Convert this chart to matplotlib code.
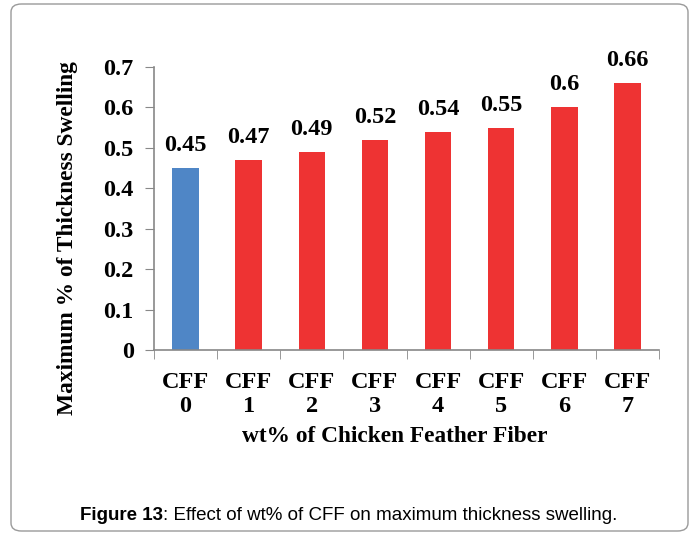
import matplotlib.pyplot as plt
from matplotlib.patches import FancyBboxPatch
import numpy as np

categories = ["CFF\n0", "CFF\n1", "CFF\n2", "CFF\n3", "CFF\n4", "CFF\n5", "CFF\n6", "CFF\n7"]
values = [0.45, 0.47, 0.49, 0.52, 0.54, 0.55, 0.6, 0.66]
value_labels = ["0.45", "0.47", "0.49", "0.52", "0.54", "0.55", "0.6", "0.66"]
colors = ["#4F86C6"] + ["#EE3333"] * 7

serif = "Liberation Serif"
W, H = 696, 535

fig = plt.figure(figsize=(6.96, 5.35), dpi=100)
fig.patch.set_facecolor("white")

# rounded frame around the whole figure
frame = FancyBboxPatch((11 / W, 4 / H), 677 / W, 527 / H,
                       boxstyle="round,pad=0,rounding_size=0.015",
                       transform=fig.transFigure, fill=False,
                       edgecolor="#9a9a9a", linewidth=1.0)
fig.patches.append(frame)

ax = fig.add_axes([154 / W, 1 - 350 / H, 505 / W, 283 / H])
x = np.arange(len(categories))
ax.bar(x, values, width=0.42, color=colors)

for xi, v, lab in zip(x, values, value_labels):
    ax.text(xi, v + 0.042, lab, ha="center", va="baseline",
            fontsize=17.5, fontweight="bold", family=serif)

ax.set_xlim(-0.5, len(categories) - 0.5)
ax.set_ylim(0, 0.7)
ax.set_yticks(np.arange(0, 0.71, 0.1))
ax.set_yticklabels(["0", "0.1", "0.2", "0.3", "0.4", "0.5", "0.6", "0.7"])
ax.set_xticks(x)
ax.set_xticklabels(categories, linespacing=1.2)
ax.set_xticks(np.arange(-0.5, len(categories)), minor=True)

for lbl in ax.get_yticklabels() + ax.get_xticklabels():
    lbl.set_family(serif)
    lbl.set_fontweight("bold")
    lbl.set_fontsize(17.5)

ax.tick_params(axis="x", which="major", length=0, pad=15.5)
ax.tick_params(axis="x", which="minor", length=6.5, color="#888888", direction="out")
ax.tick_params(axis="y", length=6.5, color="#888888", direction="out", pad=8)

for s in ["top", "right"]:
    ax.spines[s].set_visible(False)
for s in ["left", "bottom"]:
    ax.spines[s].set_color("#888888")
    ax.spines[s].set_linewidth(1.2)

fig.text(395 / W, 1 - 437 / H, "wt% of Chicken Feather Fiber", family=serif,
         fontweight="bold", fontsize=16.8, ha="center", va="center")
fig.text(68 / W, 1 - 238 / H, "Maximum % of Thickness Swelling", family=serif,
         fontweight="bold", fontsize=16.8, ha="center", va="center", rotation=90)

# caption
t1 = fig.text(80 / W, 1 - 516 / H, "Figure 13", family="Liberation Sans",
              fontweight="bold", fontsize=13.5, va="center", ha="left")
fig.canvas.draw()
bb = t1.get_window_extent()
fig.text(bb.x1 / W, 1 - 516 / H, ": Effect of wt% of CFF on maximum thickness swelling.",
         family="Liberation Sans", fontsize=13.5, va="center", ha="left")

fig.savefig("out.png", dpi=100)
